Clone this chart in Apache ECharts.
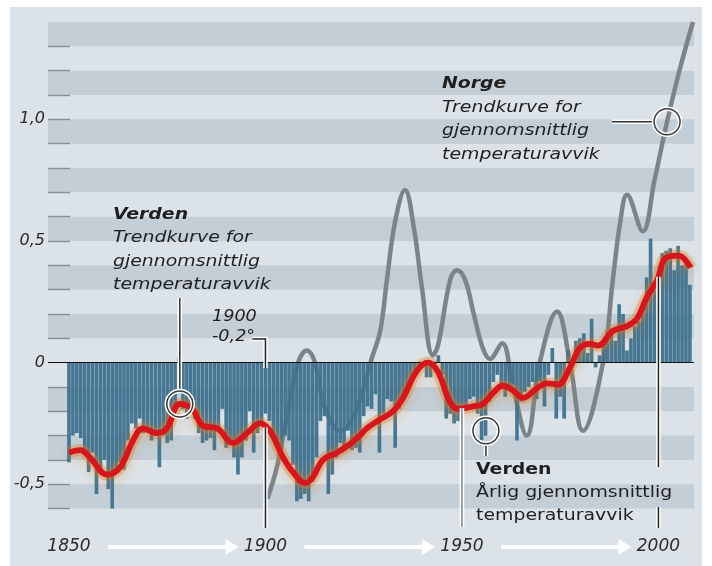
<!DOCTYPE html>
<html><head><meta charset="utf-8">
<script src="https://cdn.jsdelivr.net/npm/echarts@6/dist/echarts.min.js"></script>
<style>
html,body{margin:0;padding:0;background:#fff;}
#panel{position:absolute;left:10px;top:7px;width:692px;height:559px;background:#dce3e8;}
#chart{position:absolute;left:0;top:0;width:712px;height:566px;}
</style></head><body>
<div id="panel"></div><div id="chart"></div>
<script>
// ---------- DATA ----------
const firstYear = 1850;
// Annual mean temperature anomaly, world (°C), 1850..2008
const annualAnomaly = [
 -0.41,-0.30,-0.29,-0.31,-0.36,-0.45,-0.37,-0.54,-0.44,-0.40,
 -0.52,-0.62,-0.45,-0.41,-0.44,-0.32,-0.25,-0.27,-0.23,-0.29,
 -0.27,-0.32,-0.29,-0.43,-0.30,-0.33,-0.32,-0.18, 0.02,-0.19,
 -0.23,-0.19,-0.23,-0.29,-0.33,-0.32,-0.31,-0.36,-0.27,-0.19,
 -0.35,-0.32,-0.39,-0.46,-0.39,-0.32,-0.20,-0.37,-0.29,-0.25,
 -0.21,-0.24,-0.30,-0.33,-0.37,-0.30,-0.32,-0.42,-0.57,-0.56,
 -0.54,-0.57,-0.49,-0.39,-0.24,-0.22,-0.54,-0.46,-0.39,-0.33,
 -0.35,-0.28,-0.36,-0.35,-0.37,-0.22,-0.18,-0.19,-0.13,-0.37,
 -0.21,-0.15,-0.16,-0.35,-0.19,-0.15,-0.12,-0.08,-0.05,-0.03,
 -0.02,-0.06,-0.06,-0.01, 0.03,-0.05,-0.23,-0.21,-0.25,-0.24,
 -0.29,-0.19,-0.15,-0.14,-0.21,-0.32,-0.30,-0.16,-0.08,-0.05,
 -0.10,-0.14,-0.10,-0.09,-0.32,-0.16,-0.12,-0.10,-0.08,-0.15,
 -0.08,-0.18,-0.05, 0.06,-0.23,-0.14,-0.23, 0.05,-0.02, 0.09,
  0.10, 0.12, 0.04, 0.18,-0.02, 0.03, 0.08, 0.12, 0.14, 0.09,
  0.24, 0.20, 0.05, 0.10, 0.15, 0.17, 0.25, 0.35, 0.51, 0.30,
  0.25, 0.45, 0.46, 0.47, 0.38, 0.48, 0.40, 0.43, 0.32
];
// World trend curve (read points)
const trendYears  = [1850,1852.8,1855.3,1859.7,1863.0,1866.3,1868.8,1872.4,1874.9,1878.2,1881.3,1884.1,1887.7,1891.7,1895.3,1898.6,1901.1,1904.5,1907.0,1910.1,1912.1,1914.6,1918.2,1921.5,1924.0,1925.8,1929.0,1932.4,1935.0,1938.5,1941.3,1943.8,1946.9,1949.0,1952.8,1955.3,1957.9,1960.4,1963.0,1965.5,1969.1,1971.6,1974.4,1977.5,1980.0,1982.6,1984.6,1988.4,1992.0,1994.5,1997.1,1999.7,2001.8,2005.1,2008.2];
const trendValues = [-0.37,-0.36,-0.39,-0.46,-0.43,-0.32,-0.27,-0.29,-0.27,-0.17,-0.19,-0.26,-0.27,-0.33,-0.29,-0.25,-0.28,-0.39,-0.45,-0.495,-0.47,-0.40,-0.37,-0.335,-0.30,-0.27,-0.235,-0.20,-0.145,-0.035,0.0,-0.035,-0.16,-0.19,-0.18,-0.17,-0.125,-0.095,-0.115,-0.145,-0.105,-0.085,-0.09,-0.02,0.06,0.077,0.07,0.13,0.15,0.18,0.27,0.34,0.43,0.44,0.39];
// Norway trend curve (read points)
const norwayYears  = [1900.5,1902.9,1905.5,1908.3,1910.5,1912.6,1915,1919,1923,1927.1,1929.2,1930.9,1933,1935.5,1937.8,1939.8,1942.6,1943.9,1947.0,1948.7,1950.8,1953,1955.3,1957.1,1960.2,1963,1966.5,1969.8,1974.2,1977.5,1980.8,1985.9,1988.4,1990.3,1992.0,1996.0,1999,2002.2,2005.5,2008.8];
const norwayValues = [-0.56,-0.43,-0.22,0.0,0.05,0.0,-0.18,-0.28,-0.20,0.02,0.13,0.34,0.58,0.71,0.55,0.31,0.03,0.07,0.34,0.38,0.34,0.20,0.06,0.015,0.08,-0.10,-0.30,0.0,0.21,0.0,-0.28,0.0,0.34,0.58,0.69,0.54,0.75,0.99,1.21,1.40];
// Axis labels
const yLabelValues = [-0.5, 0, 0.5, 1.0];
const xLabelYears  = [1850, 1900, 1950, 2000];

// ---------- CHART ----------
const FONT = '"DejaVu Sans", sans-serif';
const chart = echarts.init(document.getElementById('chart'), null, {renderer:'canvas'});

const bands = [];
for (let lo = 0.1; lo < 1.35; lo += 0.2) bands.push([{yAxis: +lo.toFixed(2)}, {yAxis: +(lo + 0.1).toFixed(2)}]);
for (let hi = -0.1; hi > -0.65; hi -= 0.2) bands.push([{yAxis: +(hi - 0.1).toFixed(2)}, {yAxis: +hi.toFixed(2)}]);
const tickVals = [];
for (let k = -6; k <= 13; k++) if (k !== 0) tickVals.push(k / 10);

const pair = (xs, ys) => xs.map((x, i) => [x, ys[i]]);
const barData = annualAnomaly.map((v, i) => [firstYear + i, v]);
const trendData = pair(trendYears, trendValues);

chart.setOption({
  animation: false,
  backgroundColor: 'transparent',
  grid: {left: 48, right: 18, top: 22, bottom: 57.4, containLabel: false},
  xAxis: {
    type: 'value', min: 1844.66, max: 2009.05,
    axisLine: {show: false}, axisTick: {show: false}, splitLine: {show: false},
    axisLabel: {customValues: xLabelYears, margin: 29, fontFamily: FONT, fontStyle: 'italic', fontSize: 17, color: '#2b2b2b',
      formatter: v => String(Math.round(v))}
  },
  yAxis: {
    type: 'value', min: -0.6, max: 1.4, z: 1,
    axisLine: {show: false}, splitLine: {show: false},
    axisTick: {show: true, inside: true, length: 22, customValues: tickVals, lineStyle: {color: '#858e94', width: 1.4}},
    axisLabel: {customValues: yLabelValues, margin: 3, fontFamily: FONT, fontStyle: 'italic', fontSize: 16, color: '#2b2b2b',
      formatter: v => (Math.abs(v) < 1e-9 ? '0' : v.toFixed(1).replace('.', ','))}
  },
  series: [
    {type: 'line', data: [], z: 0, silent: true,
     markArea: {silent: true, itemStyle: {color: '#c3ced7'}, data: bands}},
    {type: 'line', name: 'Norge', data: pair(norwayYears, norwayValues), smooth: 0.4, symbol: 'none', z: 2,
     lineStyle: {color: '#7c8489', width: 4.5}},
    {type: 'bar', name: 'Verden årlig', data: barData, barWidth: 3.65, z: 3,
     itemStyle: {color: 'rgba(62,113,142,0.95)'},
     markLine: {silent: true, symbol: 'none', label: {show: false}, lineStyle: {color: '#111', width: 1, type: 'solid'}, data: [{yAxis: 0}]}},
    {type: 'line', name: 'glow', data: trendData, smooth: 0.4, symbol: 'none', z: 4, silent: true,
     lineStyle: {color: 'rgba(222,118,18,0.33)', width: 12, shadowBlur: 11, shadowColor: 'rgba(225,120,20,0.62)', shadowOffsetY: 4}},
    {type: 'line', name: 'Verden trend', data: trendData, smooth: 0.4, symbol: 'none', z: 5,
     lineStyle: {color: '#d6161d', width: 5.8}}
  ]
});

// ---------- ANNOTATIONS ----------
const P = (x, y) => chart.convertToPixel({gridIndex: 0}, [x, y]);
function trendAt(yr) {
  for (let i = 0; i < trendYears.length - 1; i++) {
    if (yr >= trendYears[i] && yr <= trendYears[i + 1]) {
      const t = (yr - trendYears[i]) / (trendYears[i + 1] - trendYears[i]);
      return trendValues[i] + t * (trendValues[i + 1] - trendValues[i]);
    }
  }
  return trendValues[trendValues.length - 1];
}
const G = [];
function halo(points, color, w) {
  G.push({type: 'polyline', z: 20, shape: {points}, style: {stroke: '#fff', lineWidth: w + 3, fill: null}});
  G.push({type: 'polyline', z: 21, shape: {points}, style: {stroke: color, lineWidth: w, fill: null}});
}
function ring(c, r) {
  G.push({type: 'circle', z: 22, shape: {cx: c[0], cy: c[1], r}, style: {fill: null, stroke: '#fff', lineWidth: 4.5}});
  G.push({type: 'circle', z: 23, shape: {cx: c[0], cy: c[1], r}, style: {fill: null, stroke: '#3a3a3a', lineWidth: 1.5}});
}
function txt(x, y, s, opt) {
  G.push({type: 'text', z: 25, x, y, scaleX: opt.sx || 1.18,
    style: {text: s, fontFamily: FONT, fontSize: opt.size || 16, fontStyle: opt.italic ? 'italic' : 'normal',
      fontWeight: opt.bold ? 'bold' : 'normal', fill: '#1f1f1f', verticalAlign: 'middle', align: 'left'}});
}

// World trend circle
const cW = P(1878.2, -0.17);
halo([[cW[0], 298], [cW[0], cW[1] - 13]], '#2f2f2f', 1.5);
ring(cW, 13);
// Norway circle
const cN = P(2002.2, 0.99);
halo([[612, cN[1]], [cN[0] - 13, cN[1]]], '#2f2f2f', 1.5);
ring(cN, 13);
// Annual circle
const cA = P(1956.1, -0.28);
halo([[cA[0], cA[1] + 13], [cA[0], 456]], '#2f2f2f', 1.5);
ring(cA, 13);

// Year lines
const p1900 = P(1900, trendAt(1900));
halo([[p1900[0], p1900[1]], [p1900[0], 528]], '#222', 1.5);
halo([[p1900[0] - 13, 339], [p1900[0], 339], [p1900[0], 368]], '#222', 1.5);
const p1950 = P(1950, trendAt(1950));
halo([[p1950[0], p1950[1]], [p1950[0], 527]], '#80898f', 1.6);
const p2000 = P(2000, trendAt(2000));
halo([[p2000[0], p2000[1]], [p2000[0], 467]], '#222', 1.5);
halo([[p2000[0], 507], [p2000[0], 528]], '#222', 1.5);

// Texts
txt(113, 215, 'Verden', {italic: true, bold: true});
txt(113, 238, 'Trendkurve for', {italic: true});
txt(113, 262, 'gjennomsnittlig', {italic: true});
txt(113, 285, 'temperaturavvik', {italic: true});

txt(442, 84, 'Norge', {italic: true, bold: true});
txt(442, 108, 'Trendkurve for', {italic: true});
txt(442, 131, 'gjennomsnittlig', {italic: true});
txt(442, 155, 'temperaturavvik', {italic: true});

txt(476, 470, 'Verden', {bold: true});
txt(476, 493, 'Årlig gjennomsnittlig', {});
txt(476, 516, 'temperaturavvik', {});

txt(212, 317, '1900', {italic: true, sx: 1.1});
txt(212, 337, '-0,2°', {italic: true, sx: 1.1});

// Arrows between year labels
for (let i = 0; i < xLabelYears.length - 1; i++) {
  const x0 = P(xLabelYears[i], 0)[0] + 39;
  const x1 = P(xLabelYears[i + 1], 0)[0] - 40;
  const y = 547;
  G.push({type: 'polygon', z: 20, shape: {points: [[x0, y - 2], [x1, y - 2], [x1, y - 8], [x1 + 13, y], [x1, y + 8], [x1, y + 2], [x0, y + 2]]},
    style: {fill: '#ffffff'}});
}
chart.setOption({graphic: G});
</script>
</body></html>
